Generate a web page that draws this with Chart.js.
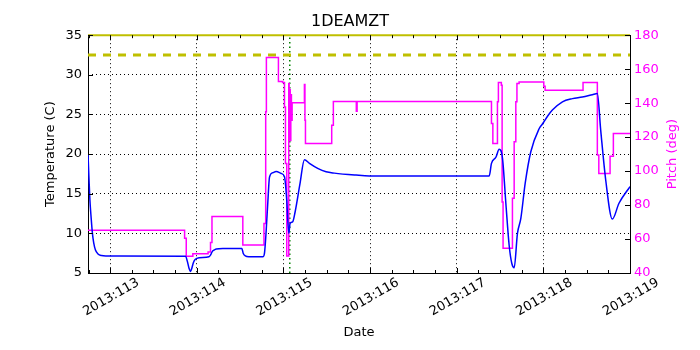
<!DOCTYPE html>
<html>
<head>
<meta charset="utf-8">
<title>1DEAMZT</title>
<script src="https://cdn.jsdelivr.net/npm/chart.js@4.4.1/dist/chart.umd.min.js"></script>
<style>
    body { margin: 0; background: #fff; }
    #box { width: 700px; height: 350px; }
</style>
</head>
<body>
<div id="box"><canvas id="mztChart"></canvas></div>
<script>
// Day of year 2013 (fractional) for the temperature trace
const tempDays = [112.744, 112.755, 112.766, 112.78, 112.795, 112.81, 112.83, 112.86, 112.9, 112.95,
    113.87, 113.89, 113.91, 113.928, 113.945, 113.96, 113.98, 114.03, 114.14, 114.16,
    114.178, 114.2, 114.224, 114.3, 114.52, 114.535, 114.56, 114.6, 114.765, 114.781,
    114.801, 114.82, 114.839, 114.877, 114.916, 114.974, 115.012, 115.038, 115.061, 115.077,
    115.107, 115.135, 115.19, 115.242, 115.3, 115.395, 115.492, 115.588, 115.838, 115.99,
    117.375, 117.401, 117.452, 117.49, 117.528, 117.567, 117.605, 117.636, 117.663, 117.701,
    117.74, 117.79, 117.855, 117.951, 117.989, 118.05, 118.104, 118.22, 118.335, 118.45,
    118.565, 118.623, 118.662, 118.72, 118.796, 118.873, 119.0];
// 1DEAMZT temperature (C)
const tempValues = [20.0, 17.0, 14.2, 12.0, 10.0, 8.8, 7.9, 7.4, 7.2, 7.15,
    7.12, 6.5, 5.6, 5.2, 5.7, 6.3, 6.7, 6.93, 7.05, 7.3,
    7.69, 7.9, 8.03, 8.1, 8.1, 7.5, 7.15, 7.05, 7.06, 7.5,
    10.4, 14.0, 17.1, 17.65, 17.8, 17.56, 17.14, 14.2, 10.0, 11.26,
    11.47, 12.73, 16.2, 19.3, 18.83, 18.2, 17.77, 17.6, 17.35, 17.25,
    17.25, 18.83, 19.6, 20.6, 19.5, 13.8, 8.5, 6.2, 5.67, 10.0,
    11.89, 16.3, 20.3, 23.2, 23.8, 24.8, 25.55, 26.6, 27.0, 27.2,
    27.5, 27.65, 23.0, 16.7, 11.8, 13.8, 15.9];

// Pitch changes: each value holds until the next day listed
const pitchDays = [112.744, 113.859, 113.878, 113.954, 114.13, 114.158, 114.175, 114.531, 114.775, 114.795,
    114.803, 114.942, 114.99, 115.012, 115.023, 115.038, 115.061, 115.066, 115.072, 115.078,
    115.085, 115.092, 115.1, 115.242, 115.248, 115.254, 115.557, 115.576, 115.841, 115.85,
    117.401, 117.417, 117.47, 117.481, 117.515, 117.524, 117.535, 117.643, 117.663, 117.682,
    117.695, 117.72, 118.005, 118.02, 118.458, 118.623, 118.64, 118.77, 118.808, 119.0];
const pitchValues = [65.1, 60.4, 49.8, 51.4, 52.3, 58, 73.3, 56.5, 69.2, 134.9,
    166.9, 152.8, 152.2, 137.8, 104.5, 50, 151.6, 125, 148, 118,
    145, 130, 140.2, 151, 130, 116.3, 127, 141, 135.3, 141,
    128, 116.3, 140.8, 152.2, 150.5, 81.8, 54.5, 84, 117.3, 140.8,
    151.6, 152.5, 150, 147.6, 152.2, 109.4, 98.6, 108.8, 122.2, 122.2];

// Limits and the marker time
const planningLimit = 32.5;
const upperLimit = 35;
const markerDay = 115.073;

const dayTicks = [113, 114, 115, 116, 117, 118, 119];
const xMin = 112.744, xMax = 119;

const toPoints = (xs, ys) => xs.map((x, i) => ({ x: x, y: ys[i] }));

Chart.defaults.font.family = "'DejaVu Sans', sans-serif";
Chart.defaults.font.size = 13;
Chart.defaults.color = '#000';

// Frame, inward tick marks and the right hand axis title
const axisDecor = {
    id: 'axisDecor',
    beforeDatasetsDraw(chart) {
        const a = chart.chartArea;
        const c = chart.ctx;
        c.save();
        c.strokeStyle = '#000';
        c.lineWidth = 1;
        c.strokeRect(Math.round(a.left) + 0.5, Math.round(a.top) + 0.5,
            Math.round(a.right - a.left), Math.round(a.bottom - a.top));
        c.restore();
    },
    afterDatasetsDraw(chart) {
        const a = chart.chartArea;
        const c = chart.ctx;
        const sx = chart.scales.x, sy = chart.scales.y, sp = chart.scales.y2;
        c.save();
        c.strokeStyle = '#000';
        c.lineWidth = 1;
        c.beginPath();
        for (let d = 112.75; d <= xMax + 1e-6; d += 0.25) {
            const px = Math.round(sx.getPixelForValue(d)) + 0.5;
            const len = Math.abs(d - Math.round(d)) < 1e-6 ? 5 : 3;
            c.moveTo(px, a.bottom); c.lineTo(px, a.bottom - len);
            c.moveTo(px, a.top); c.lineTo(px, a.top + len);
        }
        for (let t = 5; t <= 35; t += 5) {
            const py = Math.round(sy.getPixelForValue(t)) + 0.5;
            c.moveTo(a.left, py); c.lineTo(a.left + 5, py);
        }
        for (let p = 40; p <= 180; p += 20) {
            const py = Math.round(sp.getPixelForValue(p)) + 0.5;
            c.moveTo(a.right, py); c.lineTo(a.right - 5, py);
        }
        c.stroke();

        c.fillStyle = '#ff00ff';
        c.font = "13px 'DejaVu Sans'";
        c.textAlign = 'center';
        c.textBaseline = 'middle';
        c.translate(673, (a.top + a.bottom) / 2);
        c.rotate(-Math.PI / 2);
        c.fillText('Pitch (deg)', 0, 0);
        c.restore();
    }
};

const ctx = document.getElementById('mztChart');

new Chart(ctx, {
    type: 'line',
    data: {
        datasets: [{
            label: 'Temperature',
            data: toPoints(tempDays, tempValues),
            borderColor: '#0000ff',
            borderWidth: 1.5,
            pointRadius: 0,
            cubicInterpolationMode: 'monotone',
            yAxisID: 'y'
        }, {
            label: 'Pitch',
            data: toPoints(pitchDays, pitchValues),
            borderColor: '#ff00ff',
            borderWidth: 1.5,
            pointRadius: 0,
            stepped: true,
            yAxisID: 'y2'
        }, {
            label: 'Planning limit',
            data: toPoints([xMin, xMax], [planningLimit, planningLimit]),
            borderColor: '#bfbf00',
            borderWidth: 3,
            borderDash: [8, 7],
            pointRadius: 0,
            yAxisID: 'y'
        }, {
            label: 'Upper limit',
            data: toPoints([xMin, xMax], [upperLimit, upperLimit]),
            borderColor: '#bfbf00',
            borderWidth: 2,
            pointRadius: 0,
            clip: 2,
            yAxisID: 'y'
        }, {
            label: 'Now',
            data: toPoints([markerDay, markerDay], [5, 35]),
            borderColor: '#008000',
            borderWidth: 1.5,
            borderDash: [1.5, 3],
            pointRadius: 0,
            yAxisID: 'y'
        }]
    },
    options: {
        responsive: true,
        maintainAspectRatio: false,
        animation: false,
        layout: { padding: 0 },
        plugins: {
            legend: { display: false },
            tooltip: { enabled: false },
            title: {
                display: true,
                text: '1DEAMZT',
                font: { size: 16, weight: 'normal' },
                padding: { top: 12, bottom: 4 }
            }
        },
        scales: {
            x: {
                type: 'linear',
                min: xMin,
                max: xMax,
                afterFit: s => { s.height = 77; },
                afterBuildTicks: s => { s.ticks = dayTicks.map(v => ({ value: v })); },
                ticks: {
                    autoSkip: false,
                    minRotation: 30,
                    maxRotation: 30,
                    padding: 2,
                    labelOffset: 28,
                    callback: v => '2013:' + v
                },
                grid: { color: '#000', lineWidth: 1, drawTicks: false },
                border: { display: false, dash: [1, 3] },
                title: { display: true, text: 'Date', padding: { top: 10, bottom: 10 } }
            },
            y: {
                position: 'left',
                min: 5,
                max: 35,
                afterFit: s => { s.width = 88; },
                ticks: { stepSize: 5, padding: 6 },
                grid: { color: '#000', lineWidth: 1, drawTicks: false },
                border: { display: false, dash: [1, 3] },
                title: { display: true, text: 'Temperature (C)', padding: { top: 43, bottom: 4 } }
            },
            y2: {
                position: 'right',
                min: 40,
                max: 180,
                afterFit: s => { s.width = 70; },
                ticks: { stepSize: 20, padding: 4, color: '#ff00ff' },
                grid: { drawOnChartArea: false, drawTicks: false },
                border: { display: false }
            }
        }
    },
    plugins: [axisDecor]
});
</script>
</body>
</html>
